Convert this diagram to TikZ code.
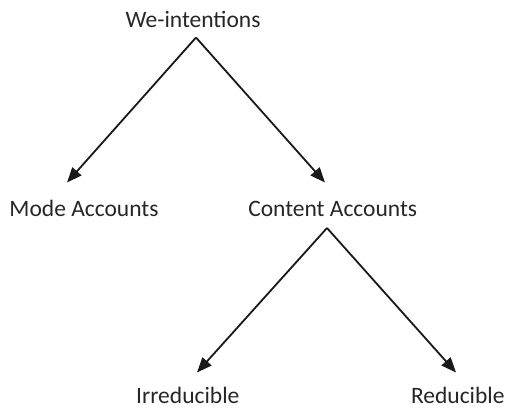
\documentclass[tikz,border=0pt]{standalone}
\usepackage{fontspec}
\setmainfont{Carlito}
\usetikzlibrary{arrows.meta}
\begin{document}
\begin{tikzpicture}[x=1pt,y=-1pt,
  lbl/.style={anchor=base,inner sep=0pt,font=\fontsize{23.5}{26}\selectfont,text=black!85},
  arr/.style={line width=1.8pt,black!90,-{Triangle[length=15pt,width=12pt]}}]
\useasboundingbox (0,0) rectangle (509,408);
\node[lbl] (we) at (193,27.7) {We-intentions};
\node[lbl] (mode) at (84,216.7) {Mode Accounts};
\node[lbl] (content) at (332.7,216.7) {Content Accounts};
\node[lbl] (irr) at (187.8,403) {Irreducible};
\node[lbl] (red) at (457.8,403) {Reducible};
\coordinate (a1) at (196,37.5);
\coordinate (t1) at (67,182.5);
\coordinate (t2) at (325,182.5);
\coordinate (a2) at (327,228);
\coordinate (t3) at (197,372.5);
\coordinate (t4) at (456,372.5);
\draw[arr] (a1) -- (t1);
\draw[arr] (a1) -- (t2);
\draw[arr] (a2) -- (t3);
\draw[arr] (a2) -- (t4);
\end{tikzpicture}
\end{document}
